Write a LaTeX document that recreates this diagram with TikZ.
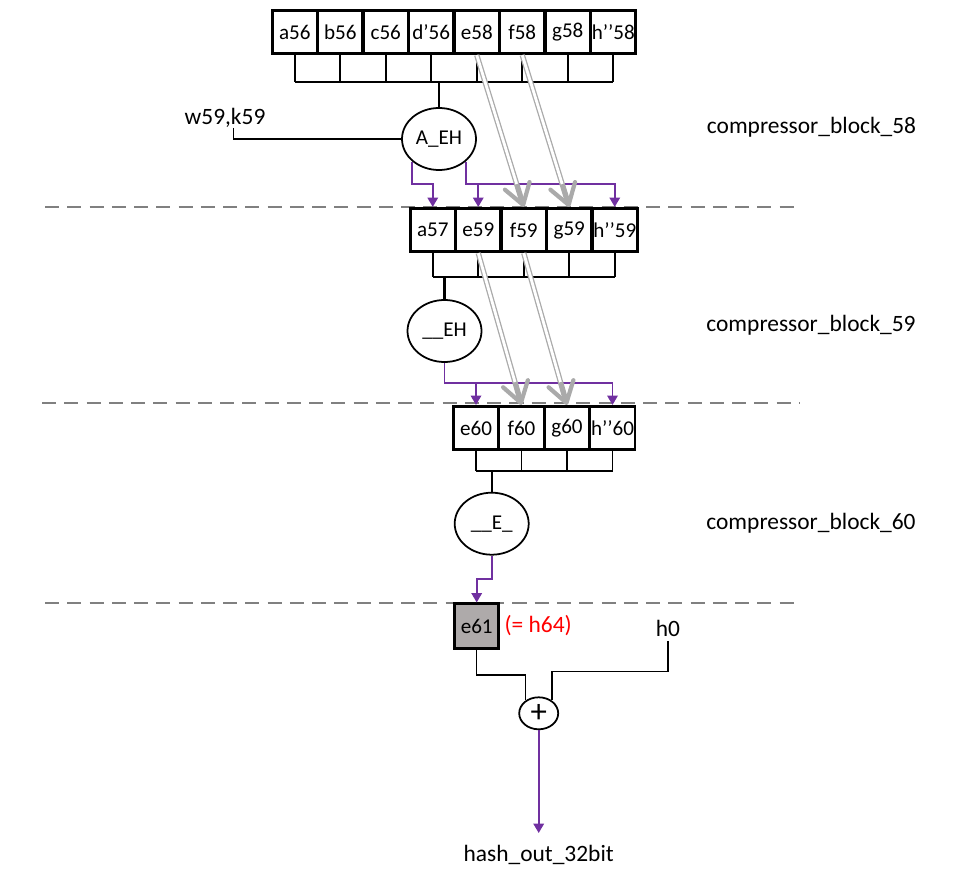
\documentclass[tikz,border=0pt]{standalone}
\usepackage{fontspec}
\setmainfont{Carlito}
\usepackage{tikz}
\usetikzlibrary{arrows.meta,positioning,shapes.geometric,calc}
\definecolor{ppl}{RGB}{112,48,160}
\definecolor{arrgray}{RGB}{170,170,170}
\definecolor{cutgray}{RGB}{128,128,128}
\definecolor{e61gray}{RGB}{174,170,170}

\begin{document}
\begin{tikzpicture}[x=0.03cm, y=-0.03cm, line width=1.3pt,
  font=\fontsize{18}{20}\selectfont,
  reg/.style={draw, line width=2.4pt, minimum width=1.35cm, minimum height=1.3cm, inner sep=0pt},
  op/.style={draw, ellipse, line width=1.5pt, minimum width=2.22cm, minimum height=1.86cm, inner sep=0pt},
  lab/.style={font=\fontsize{20}{22}\selectfont},
  pur/.style={draw=ppl, line width=1.4pt, -{Triangle[length=8pt,width=9pt]}},
  gry/.style={draw=arrgray, line width=1.1pt, double=white, double distance=2.4pt, shorten >=2pt},
  grytip/.style={draw=arrgray, line width=3.6pt, -{Straight Barb[length=17pt,width=22pt,round]}},
  cut/.style={draw=cutgray, line width=1.5pt, dash pattern=on 12pt off 7pt}]
\useasboundingbox (0,0) rectangle (961,877);

% block 58
\foreach \t/\n [count=\i from 0] in {a56/a56, b56/b56, c56/c56, d’56/d56, e58/e58, f58/f58, g58/g58, h’’58/h58}
  \node[reg] (\n) at (294.75+45.5*\i,32) {\t};
\foreach \n in {a56,b56,c56,d56,e58,f58,g58,h58}
  \draw (\n.south) -- (\n.south |- 0,82);
\draw (a56.south |- 0,82) -- (h58.south |- 0,82);
\node[op] (AEH) at (439,139) {A\_EH};
\draw[line width=2pt] (AEH.north) -- (AEH.north |- 0,82);
\node[lab] (wk) at (225,118) {w59,k59};
\coordinate (wkin) at (233.3,128);
\draw (wkin) |- (AEH.west);
\node[lab] (cb58) at (811.5,127) {compressor\_block\_58};
\draw[cut] (45,207) -- (800,207);

% block 59
\foreach \t/\n [count=\i from 0] in {a57/a57, e59/e59, f59/f59, g59/g59, h’’59/h59}
  \node[reg] (\n) at (432.75+45.5*\i,230) {\t};
\foreach \n in {a57,e59,f59,g59,h59}
  \draw (\n.south) -- (\n.south |- 0,277);
\draw (a57.south |- 0,277) -- (h59.south |- 0,277);
\node[op] (EH) at (444.5,331) {\_\_EH};
\draw[line width=2pt] (EH.north) -- (EH.north |- 0,277);
\node[lab] (cb59) at (811,325) {compressor\_block\_59};
\draw[cut] (42,403) -- (800,403);

\draw[pur] (AEH.south west) -- (AEH.south west |- 0,183.7) -| (a57.north);
\draw[pur] (AEH.south east) -- (AEH.south east |- 0,183.7) -| (h59.north);
\draw[pur] (e59.north |- 0,183.7) -- (e59.north);

% block 60
\foreach \t/\n [count=\i from 0] in {e60/e60, f60/f60, g60/g60, h’’60/h60}
  \node[reg] (\n) at (476+45.5*\i,428) {\t};
\foreach \n in {e60,f60,g60,h60}
  \draw (\n.south) -- (\n.south |- 0,471);
\draw (e60.south |- 0,471) -- (h60.south |- 0,471);
\node[op] (E) at (491.7,523.7) {\_\_E\_};
\draw[line width=2pt] (E.north) -- (E.north |- 0,471);
\node[lab] (cb60) at (811,523) {compressor\_block\_60};
\draw[cut] (45,603) -- (800,603);

\draw[pur] (EH.south) -- (EH.south |- 0,383.3) -| (h60.north);
\draw[pur] (e60.north |- 0,383.3) -- (e60.north);
\foreach \s/\d in {e58/f59, f58/g59, e59/f60, f59/g60} {
  \draw[gry] (\s.south) -- (\d.north);
  \draw[grytip] ($(\s.south)!0.85!(\d.north)$) -- (\d.north);
}

% output
\node[reg, fill=e61gray, minimum width=1.33cm, minimum height=1.33cm] (e61) at (476.7,626) {e61};
\draw[pur] (E.south) -- (E.south |- 0,579) -| (e61.north);
\node[lab, text=red, inner xsep=3pt, right=0pt of e61] (h64) {(= h64)};
\node[lab] (h0) at (668,628) {h0};
\node[op, minimum width=1.17cm, minimum height=0.96cm, font=\fontsize{28}{28}\selectfont] (plus) at (538.7,713.3) {+};
\draw (e61.south) -- (e61.south |- 0,675) -| (plus.136);
\draw (h0.south) -- (h0.south |- 0,671.7) -| (plus.44);
\node[lab, anchor=north, inner ysep=10pt] (out) at (538.7,833) {hash\_out\_32bit};
\draw[pur] (plus.south) -- (out.north);
\end{tikzpicture}
\end{document}
